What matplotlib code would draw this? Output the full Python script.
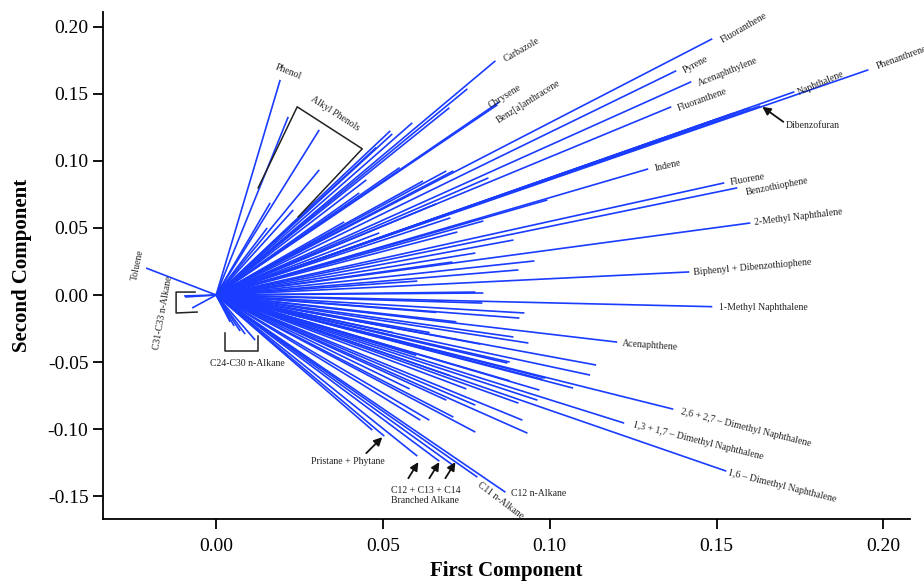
import matplotlib
matplotlib.use("Agg")
import matplotlib.pyplot as plt
import numpy as np

plt.rcParams['font.family'] = ['Liberation Serif', 'DejaVu Serif']

# loadings of each compound on the first two components
pc1 = [
    # labelled compounds
    -0.0210, 0.0192, 0.0837, 0.0849, 0.0843, 0.1487, 0.1379, 0.1424, 0.1364,
    0.1733, 0.1955, 0.1631, 0.1295, 0.1523, 0.1562, 0.1601, 0.1418, 0.1487,
    0.1202, 0.1370, 0.1223, 0.1529, 0.0867, 0.0783,
    # bundle along dibenzofuran direction
    0.1600, 0.1550, 0.1500,
    # upper fan
    0.0216, 0.0309, 0.0309, 0.0162, 0.0231, 0.0153, 0.0753, 0.0699, 0.0588,
    0.0522, 0.0528, 0.0450, 0.0429, 0.0690, 0.0711, 0.0816, 0.0384, 0.0801,
    0.0723, 0.0702, 0.0489, 0.0954, 0.0891, 0.0777, 0.0708, 0.0906, 0.0603,
    0.0801, 0.0777, 0.0993, 0.0550, 0.0620, 0.0480, 0.0660,
    # lower fan
    0.0798, 0.0924, 0.0909, 0.0891, 0.0936, 0.0792, 0.1139, 0.1121, 0.0987,
    0.1070, 0.0969, 0.0963, 0.0906, 0.0777, 0.0918, 0.0933, 0.0777, 0.0711,
    0.0612, 0.0639, 0.0690, 0.0873, 0.0603, 0.0669, 0.0714, 0.0504, 0.0468,
    0.0530, 0.0640, 0.0880, 0.0980, 0.0880, 0.0600, 0.0700, 0.0750, 0.0580,
    0.0660, 0.0720,
    # C24-C30 and C31-C33 n-alkanes
    0.0117, 0.0087, 0.0072, 0.0054, 0.0042, -0.0093, -0.0072, -0.0096,
]
pc2 = [
    0.0201, 0.1604, 0.1746, 0.1440, 0.1418, 0.1910, 0.1672, 0.1590, 0.1403,
    0.1515, 0.1679, 0.1410, 0.0940, 0.0836, 0.0799, 0.0537, 0.0172, -0.0087,
    -0.0351, -0.0851, -0.0955, -0.1313, -0.1470, -0.1358,
    0.1395, 0.1355, 0.1310,
    0.1328, 0.1231, 0.0933, 0.0687, 0.0634, 0.0500, 0.1537, 0.1396, 0.1284,
    0.1224, 0.1201, 0.0858, 0.0761, 0.0925, 0.0925, 0.0873, 0.0545, 0.0552,
    0.0470, 0.0575, 0.0463, 0.0254, 0.0410, 0.0313, 0.0246, 0.0187, 0.0104,
    0.0015, 0.0022, 0.0709, 0.0950, 0.0850, 0.1100, 0.0680,
    -0.0060, -0.0134, -0.0172, -0.0313, -0.0358, -0.0366, -0.0522, -0.0597, -0.0619,
    -0.0694, -0.0709, -0.0784, -0.0806, -0.0821, -0.0933, -0.1030, -0.1022, -0.0910,
    -0.0933, -0.0933, -0.0784, -0.0507, -0.1201, -0.1239, -0.1276, -0.1052, -0.1007,
    -0.0280, -0.0280, -0.0500, -0.0630, -0.0640, -0.0450, -0.0600, -0.0700, -0.0700,
    -0.0130, -0.0200,
    -0.0336, -0.0291, -0.0269, -0.0231, -0.0201, -0.0015, -0.0097, -0.0007,
]

# label text, position, rotation
labels = [
    ("Phenol", 0.0216, 0.1664, -22),
    ("Alkyl Phenols", 0.0357, 0.1351, -33),
    ("Carbazole", 0.0915, 0.1828, 30),
    ("Chrysene", 0.0864, 0.1478, 32),
    ("Benz[a]anthracene", 0.0936, 0.1440, 32),
    ("Fluoranthene", 0.1583, 0.1993, 30),
    ("Pyrene", 0.1436, 0.1716, 28),
    ("Acenaphthylene", 0.1532, 0.1664, 22),
    ("Fluoranthene", 0.1457, 0.1455, 20),
    ("Naphthalene", 0.1811, 0.1582, 23),
    ("Phenanthrene", 0.2054, 0.1769, 20),
    ("Dibenzofuran", 0.1787, 0.1261, 0),
    ("Indene", 0.1355, 0.0963, 13),
    ("Fluorene", 0.1592, 0.0858, 10),
    ("Benzothiophene", 0.1682, 0.0806, 11),
    ("2-Methyl Naphthalene", 0.1745, 0.0582, 7),
    ("Biphenyl + Dibenzothiophene", 0.1607, 0.0209, 5),
    ("1-Methyl Naphthalene", 0.1640, -0.0090, 0),
    ("Acenaphthene", 0.1301, -0.0373, -4),
    ("2,6 + 2,7 \u2013 Dimethyl Naphthalene", 0.1589, -0.0993, -14),
    ("1,3 + 1,7 \u2013 Dimethyl Naphthalene", 0.1445, -0.1090, -14),
    ("1,6 \u2013 Dimethyl Naphthalene", 0.1697, -0.1425, -14),
    ("C12 n-Alkane", 0.0966, -0.1478, 0),
    ("C11 n-Alkane", 0.0852, -0.1530, -37),
    ("Pristane + Phytane", 0.0396, -0.1239, 0),
    ("C12 + C13 + C14\nBranched Alkane", 0.0627, -0.1493, 0),
    ("C24-C30 n-Alkane", 0.0093, -0.0507, 0),
    ("C31-C33 n-Alkane", -0.0159, -0.0134, 80),
    ("Toluene", -0.0234, 0.0224, 78),
]

# arrows: (tail x, tail y, head x, head y)
arrows = [
    (0.1700, 0.1291, 0.1637, 0.1403),
    (0.0450, -0.1179, 0.0498, -0.1060),
    (0.0576, -0.1366, 0.0606, -0.1246),
    (0.0639, -0.1366, 0.0669, -0.1246),
    (0.0687, -0.1366, 0.0717, -0.1246),
]

# group brackets
brackets = [
    ([0.0126, 0.0243, 0.0438, 0.0246], [0.0799, 0.1403, 0.1090, 0.0582]),
    ([-0.0063, -0.0120, -0.0120, -0.0057], [0.0022, 0.0022, -0.0134, -0.0127]),
    ([0.0027, 0.0027, 0.0126, 0.0126], [-0.0284, -0.0418, -0.0418, -0.0306]),
]

fig = plt.figure(figsize=(9.24, 5.85), dpi=100)
ax = fig.add_axes([0.1115, 0.1128, 0.8735, 0.8667])

for x, y in zip(pc1, pc2):
    ax.plot([0, x], [0, y], color='#1a3cff', lw=1.2, solid_capstyle='butt')

for bx, by in brackets:
    ax.plot(bx, by, color='#222222', lw=1.1)

for tx, ty, hx, hy in arrows:
    ax.annotate("", xy=(hx, hy), xytext=(tx, ty),
                arrowprops=dict(arrowstyle='-|>', color='#111111', lw=1.3,
                                mutation_scale=12, shrinkA=0, shrinkB=0))

for text, x, y, rot in labels:
    ax.text(x, y, text, fontsize=7, rotation=rot, ha='center', va='center',
            color='#222222', linespacing=1.1)

ax.set_xlim(-0.0339, 0.208)
ax.set_ylim(-0.167, 0.211)
ax.set_xticks([0.0, 0.05, 0.10, 0.15, 0.20])
ax.set_yticks([-0.15, -0.10, -0.05, 0.0, 0.05, 0.10, 0.15, 0.20])
ax.xaxis.set_major_formatter(matplotlib.ticker.FormatStrFormatter('%.2f'))
ax.yaxis.set_major_formatter(matplotlib.ticker.FormatStrFormatter('%.2f'))
ax.tick_params(labelsize=14, length=7, width=1.3, direction='out')
ax.tick_params(axis='x', pad=7)
ax.spines['top'].set_visible(False)
ax.spines['right'].set_visible(False)
ax.spines['left'].set_linewidth(1.3)
ax.spines['bottom'].set_linewidth(1.3)

ax.set_xlabel('First Component', fontsize=15, fontweight='bold', labelpad=4)
ax.set_ylabel('Second Component', fontsize=15, fontweight='bold', labelpad=11)

fig.savefig('out.png', dpi=100)
